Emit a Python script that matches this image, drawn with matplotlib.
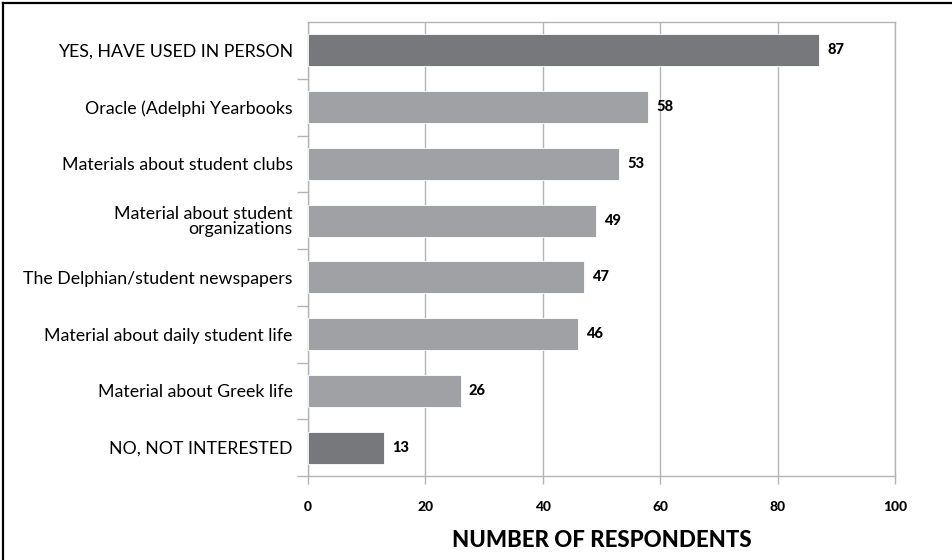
import matplotlib
matplotlib.use("Agg")
import matplotlib.pyplot as plt
from matplotlib.lines import Line2D
import numpy as np

# survey answers, top to bottom
labels = [
    "YES, HAVE USED IN PERSON",
    "Oracle (Adelphi Yearbooks",
    "Materials about student clubs",
    "Material about student\norganizations",
    "The Delphian/student newspapers",
    "Material about daily student life",
    "Material about Greek life",
    "NO, NOT INTERESTED",
]
counts = [87, 58, 53, 49, 47, 46, 26, 13]
xticks = [0, 20, 40, 60, 80, 100]

dark = "#77787b"
light = "#a0a1a4"
colors = [dark] + [light] * 6 + [dark]
grid_c = "#b3b4b6"

plt.rcParams["font.family"] = ["Lato", "DejaVu Sans"]

fig = plt.figure(figsize=(9.53, 5.6), dpi=100)
ax = fig.add_axes([308 / 953, 1 - 476 / 560, (895 - 308) / 953, (476 - 22) / 560])

y = np.arange(len(labels))
ax.barh(y, counts, height=0.56, color=colors, edgecolor="white", linewidth=0.6, zorder=3)

for yi, v in zip(y, counts):
    ax.annotate(str(v), (v, yi), xytext=(6, 0), textcoords="offset points",
                va="center", ha="left", fontsize=10.5, fontweight="black", color="black")

ax.set_xlim(0, 100)
ax.set_ylim(len(labels) - 0.5, -0.5)
ax.set_xticks(xticks)
ax.set_xticklabels([str(t) for t in xticks], fontsize=10, fontweight="black")
ax.set_yticks(y)
ax.set_yticklabels(labels, fontsize=12.8, linespacing=0.95)
ax.tick_params(axis="y", length=0, pad=11)
ax.set_yticks(y + 0.5, minor=True)
ax.tick_params(axis="y", which="minor", length=8, width=1, color=grid_c, direction="out")
ax.tick_params(axis="x", length=6, width=1, color=grid_c, direction="out", pad=12)

ax.grid(axis="x", color=grid_c, linewidth=1, zorder=0)
for s in ax.spines.values():
    s.set_color(grid_c)
    s.set_linewidth(1)

ax.set_xlabel("NUMBER OF RESPONDENTS", fontsize=16, fontweight="black", labelpad=12)

# outer frame lines along the left and top edges
fig.add_artist(Line2D([3 / 953, 3 / 953], [0, 1 - 3 / 560], transform=fig.transFigure,
                      color="black", linewidth=1.6))
fig.add_artist(Line2D([3 / 953, 1], [1 - 3 / 560, 1 - 3 / 560], transform=fig.transFigure,
                      color="black", linewidth=1.6))

fig.savefig("out.png", dpi=100)
